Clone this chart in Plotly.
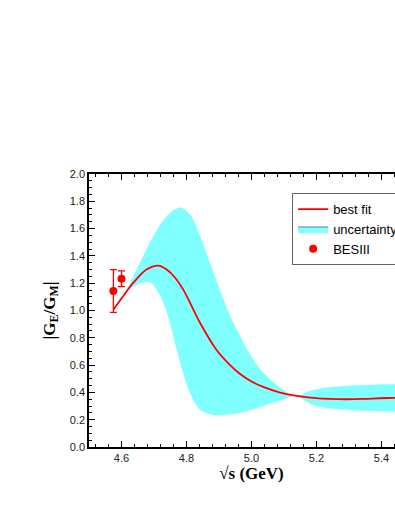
import plotly.graph_objects as go

# best fit curve
fit_x = [4.575, 4.605, 4.636, 4.677, 4.713, 4.739, 4.765, 4.79, 4.842, 4.892, 4.934, 4.965,
         5.0, 5.036, 5.088, 5.139, 5.19, 5.242, 5.293, 5.344, 5.395, 5.45, 5.5]
fit_y = [1.006, 1.105, 1.202, 1.30, 1.329, 1.30, 1.24, 1.153, 0.908, 0.712, 0.60, 0.535,
         0.48, 0.44, 0.399, 0.374, 0.36, 0.352, 0.350, 0.352, 0.357, 0.361, 0.363]

# uncertainty band edges
up_x = [4.625, 4.657, 4.698, 4.739, 4.78, 4.811, 4.842, 4.872, 4.903, 4.94, 4.965,
        4.985, 5.036, 5.088, 5.135, 5.19, 5.293, 5.45, 5.5]
up_y = [1.17, 1.35, 1.544, 1.691, 1.755, 1.703, 1.544, 1.349, 1.15, 0.93, 0.815,
        0.72, 0.545, 0.435, 0.375, 0.418, 0.448, 0.46, 0.462]
lo_x = [4.625, 4.657, 4.688, 4.708, 4.729, 4.749, 4.77, 4.79, 4.811, 4.842, 4.882,
        4.923, 4.985, 5.046, 5.095, 5.135, 5.19, 5.293, 5.45, 5.5]
lo_y = [1.17, 1.20, 1.206, 1.153, 1.055, 0.908, 0.712, 0.541, 0.394, 0.272, 0.235,
        0.237, 0.26, 0.31, 0.345, 0.375, 0.308, 0.272, 0.258, 0.256]

# BESIII data
bes_x = [4.575, 4.600]
bes_y = [1.143, 1.233]
bes_err = [0.157, 0.058]

RED = '#ff0000'
CYAN = '#80ffff'

fig = go.Figure()
fig.add_trace(go.Scatter(x=up_x + lo_x[::-1], y=up_y + lo_y[::-1], fill='toself',
                         fillcolor=CYAN, mode='lines', line=dict(width=0, shape='spline'),
                         showlegend=False, hoverinfo='skip'))
fig.add_trace(go.Scatter(x=fit_x, y=fit_y, mode='lines', name='best fit',
                         line=dict(color=RED, width=1.8, shape='spline'), legendrank=1))
fig.add_trace(go.Scatter(x=[None], y=[None], fill='toself', fillcolor=CYAN, mode='lines',
                         line=dict(color='#777777', width=1), name='uncertainty', legendrank=2))
fig.add_trace(go.Scatter(x=bes_x, y=bes_y, mode='markers', name='BESIII',
                         marker=dict(color=RED, size=8),
                         error_y=dict(type='data', array=bes_err, color=RED, thickness=1.3, width=3.5),
                         legendrank=3))

axis_common = dict(showline=True, linecolor='black', linewidth=1.5, mirror='ticks',
                   ticks='inside', ticklen=6, tickwidth=1, tickcolor='black',
                   showgrid=False, zeroline=False,
                   tickfont=dict(family='Arial, Liberation Sans', size=11, color='#222222'))

fig.update_xaxes(range=[4.5, 5.5], dtick=0.2, tickformat='.1f',
                 minor=dict(dtick=0.04, ticklen=3, tickcolor='black', ticks='inside'),
                 title=dict(text='<b>√s (GeV)</b>', standoff=0,
                            font=dict(family='Times New Roman, Liberation Serif', size=17, color='black')),
                 **axis_common)
fig.update_yaxes(range=[0, 2.0], dtick=0.2, tickformat='.1f',
                 minor=dict(dtick=0.05, ticklen=3, tickcolor='black', ticks='inside'),
                 title=dict(text='<b>|G<sub>E</sub>/G<sub>M</sub>|</b>', standoff=10,
                            font=dict(family='Times New Roman, Liberation Serif', size=17, color='black')),
                 **axis_common)

fig.update_layout(width=440, height=511, margin=dict(l=89, r=26, t=174, b=64),
                  plot_bgcolor='white', paper_bgcolor='white',
                  legend=dict(x=0.625, y=0.93, xanchor='left', yanchor='top',
                              bordercolor='#666666', borderwidth=1, bgcolor='white',
                              font=dict(family='Arial, Liberation Sans', size=13, color='black'),
                              tracegroupgap=0),
                  showlegend=True)

fig.write_html("out.html", config={'displayModeBar': False},
               post_script="document.body.style.margin='0';document.body.style.overflow='hidden';")
